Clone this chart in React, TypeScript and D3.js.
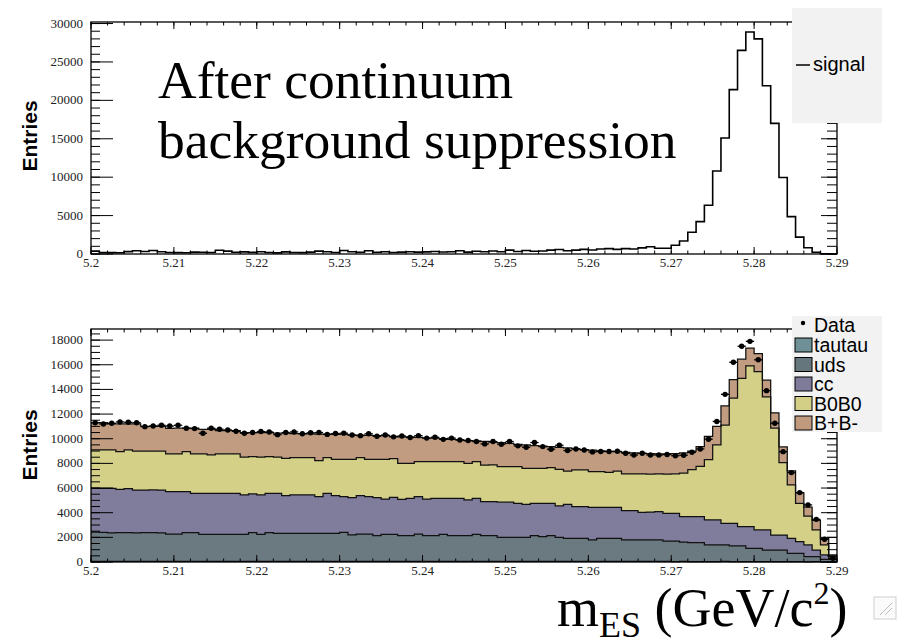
import React from 'react';
import * as d3 from 'd3';

// ---------- data ----------
const X_MIN = 5.2;
const X_MAX = 5.29;
const BIN_W = 0.001;

const xTickLabels = ['5.2', '5.21', '5.22', '5.23', '5.24', '5.25', '5.26', '5.27', '5.28', '5.29'];
const topYTicks = [0, 5000, 10000, 15000, 20000, 25000, 30000];
const botYTicks = [0, 2000, 4000, 6000, 8000, 10000, 12000, 14000, 16000, 18000];

const signal = [
  380, 200, 180, 170, 310, 420, 330, 450, 300, 200,
  180, 170, 250, 220, 200, 480, 380, 220, 280, 210,
  300, 200, 150, 280, 200, 180, 250, 380, 300, 200,
  460, 300, 230, 420, 220, 300, 200, 250, 300, 250,
  280, 330, 260, 300, 420, 250, 350, 300, 400, 300,
  500, 330, 460, 350, 400, 500, 580, 420, 500, 600,
  520, 650, 700, 600, 700, 650, 800, 950, 740, 740,
  1130, 1690, 2830, 4210, 6350, 10800, 15100, 21400, 26500, 28900,
  28000, 21900, 17000, 9950, 4860, 2200, 820, 220, 40, 0,
];

const tautau = [
  52, 50, 49, 51, 50, 48, 50, 52, 50, 49,
  50, 51, 50, 48, 50, 50, 52, 50, 49, 50,
  50, 51, 50, 49, 50, 50, 48, 50, 51, 50,
  50, 49, 50, 50, 51, 50, 48, 50, 50, 49,
  50, 50, 51, 50, 49, 50, 50, 48, 50, 50,
  51, 50, 49, 50, 50, 50, 48, 50, 50, 49,
  50, 51, 50, 50, 49, 50, 50, 48, 50, 50,
  40, 41, 40, 39, 40, 40, 41, 40, 39, 40,
  30, 31, 30, 29, 30, 30, 20, 21, 20, 20,
];

const uds = [
  2380, 2350, 2310, 2330, 2330, 2310, 2330, 2330, 2310, 2220,
  2220, 2330, 2330, 2190, 2190, 2190, 2190, 2190, 2190, 2330,
  2190, 2330, 2280, 2280, 2280, 2280, 2280, 2280, 2280, 2280,
  2360, 2150, 2220, 2220, 2090, 2190, 2190, 2090, 2090, 2220,
  2090, 2090, 2190, 2090, 2090, 2090, 2190, 2090, 2090, 1950,
  1950, 1950, 1950, 2090, 2000, 2090, 1950, 1870, 1870, 1870,
  1740, 1870, 1870, 1870, 1740, 1740, 1740, 1740, 1740, 1650,
  1660, 1580, 1530, 1530, 1340, 1340, 1340, 1260, 1260, 1070,
  1080, 940, 940, 940, 670, 670, 410, 410, 200, 200,
];

const cc = [
  3550, 3580, 3620, 3520, 3570, 3480, 3460, 3460, 3480, 3440,
  3440, 3330, 3190, 3330, 3330, 3330, 3330, 3330, 3200, 3140,
  3200, 3190, 3240, 3050, 3110, 3110, 3110, 2970, 3240, 3050,
  2890, 3020, 3110, 3030, 3080, 2870, 3010, 2950, 3030, 3030,
  2970, 3030, 2930, 3030, 3030, 2890, 2930, 2760, 2760, 2850,
  2850, 2760, 2680, 2620, 2710, 2620, 2550, 2760, 2570, 2570,
  2650, 2520, 2520, 2520, 2380, 2380, 2240, 2260, 2290, 2250,
  2250, 2060, 2110, 2110, 2030, 2030, 1760, 1840, 1570, 1760,
  1490, 1630, 1220, 1220, 1220, 950, 950, 540, 350, 80,
];

const b0b0 = [
  3110, 3110, 3110, 3050, 3140, 3160, 3160, 3160, 3160, 3060,
  3060, 3240, 3200, 3200, 3110, 3200, 3200, 3200, 3060, 3030,
  3060, 2980, 2930, 3030, 3030, 3030, 3030, 2920, 2900, 2950,
  3030, 3110, 3090, 3030, 3110, 3220, 3140, 2910, 2830, 2840,
  3030, 2970, 2970, 2970, 2970, 2970, 2970, 2970, 2970, 2890,
  2890, 2980, 2920, 2840, 2840, 2900, 2970, 2700, 2980, 2980,
  2890, 2890, 2840, 2940, 2970, 2970, 3110, 3090, 3060, 3170,
  3200, 3520, 3820, 4070, 4890, 6090, 7960, 10160, 12030, 13030,
  12850, 10800, 8660, 5870, 4330, 3110, 2350, 1630, 810, 130,
];

const bpbm = [
  2210, 2210, 2110, 2250, 2110, 2200, 2000, 2000, 2000, 2080,
  2080, 1900, 2080, 1980, 2070, 1890, 1890, 1890, 2000, 1950,
  2000, 1950, 1950, 2040, 1950, 1950, 1930, 2160, 1910, 2020,
  2020, 1970, 1830, 1950, 1920, 1920, 1810, 2150, 2150, 1960,
  1910, 1910, 1860, 1810, 1760, 1850, 1680, 1910, 1850, 1940,
  1880, 1810, 1900, 1850, 1800, 1690, 1780, 1870, 1710, 1650,
  1750, 1690, 1700, 1570, 1760, 1710, 1680, 1660, 1640, 1660,
  1650, 1650, 1500, 1600, 1900, 1500, 1560, 1500, 1550, 1450,
  1450, 1350, 1250, 1270, 1150, 840, 720, 770, 520, 140,
];

const dataPts = [
  11300, 11200, 11250, 11360, 11330, 11300, 10980, 11030, 11090, 11030,
  11090, 10850, 10820, 10440, 10850, 10770, 10710, 10600, 10440, 10500,
  10580, 10550, 10330, 10500, 10550, 10400, 10480, 10500, 10350, 10420,
  10450, 10300, 10250, 10400, 10200, 10300, 10150, 10220, 10100, 10250,
  10050, 10120, 9950, 10050, 9900, 9850, 9770, 9580, 9770, 9550,
  9770, 9420, 9310, 9690, 9360, 9150, 9470, 9040, 9170, 9090,
  8930, 8960, 8960, 8980, 8820, 8680, 8820, 8680, 8680, 8720,
  8620, 8660, 8900, 9170, 9960, 11400, 13600, 16200, 17500, 17900,
  16400, 13900, 11260, 8950, 7250, 5630, 4630, 3460, 1840, 300,
];

const stackNames = ['tautau', 'uds', 'cc', 'B0B0', 'B+B-'];
const stackSeries = [tautau, uds, cc, b0b0, bpbm];
const stackColors = ['#6c8d92', '#6b7980', '#7f7c9c', '#d4d088', '#c19c80'];
const legendColors = ['#6f9096', '#66767d', '#7e7b9b', '#d3cf87', '#c09a7e'];

// ---------- layout ----------
const W = 899;
const H = 644;
const LEFT = 91;
const RIGHT = 837;
const TOP1 = 22;
const BOT1 = 254;
const TOP2 = 329;
const BOT2 = 562;

const x = d3.scaleLinear().domain([X_MIN, X_MAX]).range([LEFT, RIGHT]);
const yTop = d3.scaleLinear().domain([0, 30200]).range([BOT1, TOP1]);
const yBot = d3.scaleLinear().domain([0, 18900]).range([BOT2, TOP2]);

const tickFont = "'Liberation Serif', 'Times New Roman', serif";
const sansFont = "'Liberation Sans', Arial, Helvetica, sans-serif";

type P = { x: number; lo: number; hi: number };

function stepPoints(lo: number[], hi: number[]): P[] {
  const pts: P[] = [];
  hi.forEach((v, i) => {
    const a = X_MIN + i * BIN_W;
    const b = X_MIN + (i + 1) * BIN_W;
    pts.push({ x: x(a), lo: lo[i], hi: v });
    pts.push({ x: x(b), lo: lo[i], hi: v });
  });
  return pts;
}

function Axes({ top, bot, y, majorTicks, minorStep, labels }: any) {
  const xMajor = d3.range(0, 10).map((i) => X_MIN + i * 0.01);
  const xMinor = d3.range(0, 46).map((i) => X_MIN + i * 0.002);
  const yMax = y.domain()[1];
  const yMinor = d3.range(0, yMax, minorStep);
  return (
    <g>
      <rect x={LEFT} y={top} width={RIGHT - LEFT} height={bot - top} fill="none" stroke="#000" strokeWidth={1.3} />
      {xMinor.map((v, i) => (
        <g key={'xm' + i}>
          <line x1={x(v)} x2={x(v)} y1={bot} y2={bot - 3.5} stroke="#000" />
          <line x1={x(v)} x2={x(v)} y1={top} y2={top + 3.5} stroke="#000" />
        </g>
      ))}
      {xMajor.map((v, i) => (
        <g key={'xM' + i}>
          <line x1={x(v)} x2={x(v)} y1={bot} y2={bot - 7} stroke="#000" />
          <line x1={x(v)} x2={x(v)} y1={top} y2={top + 7} stroke="#000" />
          <text x={x(v)} y={bot + 13} textAnchor="middle" fontFamily={tickFont} fontSize={13} fill="#222">
            {xTickLabels[i]}
          </text>
        </g>
      ))}
      {yMinor.map((v: number, i: number) => (
        <g key={'ym' + i}>
          <line x1={LEFT} x2={LEFT + 9} y1={y(v)} y2={y(v)} stroke="#000" />
          <line x1={RIGHT} x2={RIGHT - 10} y1={y(v)} y2={y(v)} stroke="#000" />
        </g>
      ))}
      {majorTicks.map((v: number, i: number) => (
        <g key={'yM' + i}>
          <line x1={LEFT} x2={LEFT + 22} y1={y(v)} y2={y(v)} stroke="#000" />
          <line x1={RIGHT} x2={RIGHT - 16} y1={y(v)} y2={y(v)} stroke="#000" />
          <text x={83} y={y(v) + 4} textAnchor="end" fontFamily={tickFont} fontSize={13} fill="#222">
            {labels[i]}
          </text>
        </g>
      ))}
    </g>
  );
}

export default function App() {
  // top panel signal histogram
  const sigPts = stepPoints(signal.map(() => 0), signal);
  const sigLine = d3
    .line<P>()
    .x((p) => p.x)
    .y((p) => yTop(p.hi))(sigPts) as string;

  // bottom stack
  const rows = signal.map((_, i) => {
    const r: Record<string, number> = {};
    stackNames.forEach((n, k) => (r[n] = stackSeries[k][i]));
    return r;
  });
  const stacked = d3.stack<Record<string, number>>().keys(stackNames)(rows);
  const area = d3
    .area<P>()
    .x((p) => p.x)
    .y0((p) => yBot(p.lo))
    .y1((p) => yBot(p.hi));
  const topLine = d3
    .line<P>()
    .x((p) => p.x)
    .y((p) => yBot(p.hi));

  const layers = stacked.map((s, k) => {
    const lo = s.map((d) => d[0]);
    const hi = s.map((d) => d[1]);
    const pts = stepPoints(lo, hi);
    return { k, area: area(pts) as string, line: topLine(pts) as string };
  });

  const halfBin = (x(X_MIN + BIN_W) - x(X_MIN)) / 2;

  return (
    <svg width={W} height={H} style={{ position: 'absolute', left: 0, top: 0, background: '#fff' }}>
      <rect x={0} y={0} width={W} height={H} fill="#fff" />

      {/* ---------- top panel ---------- */}
      <path d={sigLine} fill="none" stroke="#000" strokeWidth={1.6} />
      <Axes top={TOP1} bot={BOT1} y={yTop} majorTicks={topYTicks} minorStep={1000} labels={topYTicks.map(String)} />
      <text transform={`translate(37,136) rotate(-90)`} textAnchor="middle" fontFamily={sansFont} fontWeight="bold" fontSize={21} fill="#000">
        Entries
      </text>
      <rect x={792} y={8} width={90} height={115} fill="#f2f2f2" />
      <line x1={796} x2={810} y1={65} y2={65} stroke="#000" strokeWidth={1.5} />
      <text x={813} y={71} fontFamily={sansFont} fontSize={20} fill="#000">signal</text>

      <text fontFamily={tickFont} fontSize={53.5} fill="#000">
        <tspan x={158} y={98}>After continuum</tspan>
        <tspan x={158} y={158}>background suppression</tspan>
      </text>

      {/* ---------- bottom panel ---------- */}
      {layers.map((l) => (
        <path key={'a' + l.k} d={l.area} fill={stackColors[l.k]} stroke="none" />
      ))}
      {layers.map((l) => (
        <path key={'l' + l.k} d={l.line} fill="none" stroke="#111" strokeWidth={1.25} />
      ))}
      {dataPts.map((v, i) => {
        const cx = x(X_MIN + (i + 0.5) * BIN_W);
        return (
          <g key={'d' + i}>
            <line x1={cx - halfBin} x2={cx + halfBin} y1={yBot(v)} y2={yBot(v)} stroke="#000" strokeWidth={1.3} />
            <circle cx={cx} cy={yBot(v)} r={2.7} fill="#000" />
          </g>
        );
      })}
      <Axes top={TOP2} bot={BOT2} y={yBot} majorTicks={botYTicks} minorStep={500} labels={botYTicks.map(String)} />
      <text transform={`translate(37,445) rotate(-90)`} textAnchor="middle" fontFamily={sansFont} fontWeight="bold" fontSize={21} fill="#000">
        Entries
      </text>

      <rect x={792} y={316} width={90} height={116} fill="#f2f2f2" />
      <circle cx={803} cy={323} r={2.2} fill="#000" />
      <text x={814} y={332} fontFamily={sansFont} fontSize={19.5} fill="#000">Data</text>
      {stackNames.map((n, k) => {
        const cy = 345 + k * 19.5;
        return (
          <g key={'lg' + k}>
            <rect x={795} y={cy - 7} width={17} height={14} fill={legendColors[k]} stroke="#000" strokeWidth={1} />
            <text x={814} y={cy + 7} fontFamily={sansFont} fontSize={19.5} fill="#000">{n}</text>
          </g>
        );
      })}

      {/* axis title */}
      <text x={557} y={626} fontFamily={tickFont} fontSize={54} fill="#000">
        m<tspan fontSize={36} dy={11}>ES</tspan>
        <tspan fontSize={54} dy={-11}> (GeV/c</tspan>
        <tspan fontSize={32} dy={-22}>2</tspan>
        <tspan fontSize={54} dy={22}>)</tspan>
      </text>

      {/* resize grip */}
      <rect x={874} y={597} width={22} height={22} fill="#fbfbfb" stroke="#cfcfcf" />
      <line x1={880} y1={615} x2={892} y2={603} stroke="#bbb" />
      <line x1={885} y1={615} x2={892} y2={608} stroke="#bbb" />
    </svg>
  );
}
